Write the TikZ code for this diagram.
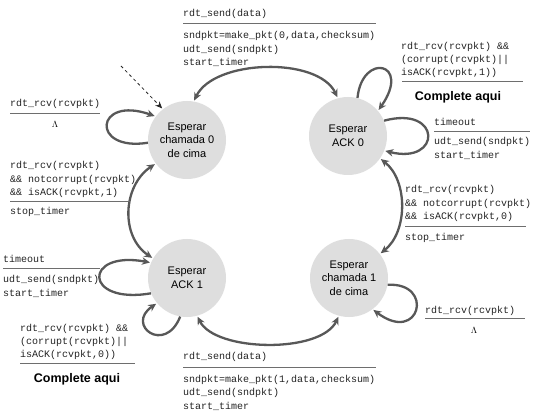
\documentclass[tikz,border=0pt]{standalone}
\usepackage{fontspec}
\setmainfont{Liberation Sans}
\setmonofont{Liberation Mono}
\usetikzlibrary{arrows.meta}
\definecolor{arrowgray}{RGB}{88,88,88}
\definecolor{rulegray}{RGB}{110,110,110}
\definecolor{statefill}{RGB}{222,222,222}
\definecolor{txtgray}{RGB}{35,35,35}
\begin{document}
\begin{tikzpicture}[x=1pt,y=-1pt,
  state/.style={circle, fill=statefill, minimum size=78pt, inner sep=0pt, align=center,
    font=\fontsize{11}{13.5}\selectfont},
  arc/.style={draw=arrowgray, line width=2.3pt, -{Stealth[length=8pt,width=7.5pt]}, shorten >=1pt},
  darc/.style={draw=arrowgray, line width=2.3pt, {Stealth[length=8pt,width=7.5pt]}-{Stealth[length=8pt,width=7.5pt]}, shorten >=1pt, shorten <=1pt},
  dasharr/.style={draw=black!85, line width=0.8pt, dashed, -{Stealth[length=7pt,width=6pt]}, shorten >=1pt},
  lbl/.style={anchor=base west, inner sep=0pt, text=txtgray, font=\fontsize{10}{12}\ttfamily\selectfont},
  lam/.style={anchor=base, inner sep=0pt, font=\fontsize{9}{11}\selectfont},
  todo/.style={anchor=base, inner sep=0pt, font=\fontsize{12.5}{14}\bfseries},
  rul/.style={draw=rulegray, line width=1pt}]
\useasboundingbox (0,0) rectangle (533,414);

% states
\node[state] (A) at (187,140) {Esperar\\chamada 0\\de cima};
\node[state] (B) at (348,136) {Esperar\\ACK 0};
\node[state] (C) at (187,278) {Esperar\\ACK 1};
\node[state] (D) at (349,278) {Esperar\\chamada 1\\de cima};

% initial dashed arrow
\coordinate (d0) at (121,66);
\draw[dasharr] (d0) -- (A.128);

% main transitions
\draw[darc] (A.80) .. controls +(20,-42) and +(-20,-42) .. (B.105);
\draw[darc] (B.-35) .. controls +(28,22) and +(28,-22) .. (D.38);
\draw[darc] (A.217) .. controls +(-33,22) and +(-33,-22) .. (C.150);
\draw[darc] (C.-75) .. controls +(18,36) and +(-18,38) .. (D.-105);

% self loops
\draw[arc] (A.184) .. controls (90,152) and (95,95) .. (A.143);
\draw[arc] (B.76) .. controls (362,52) and (412,62) .. (B.40);
\draw[arc] (B.23) .. controls (442,105) and (442,165) .. (B.-22);
\draw[arc] (D.-10) .. controls (435,282) and (420,345) .. (D.-53);
\draw[arc] (C.203) .. controls (83,305) and (83,250) .. (C.157);
\draw[arc] (C.-100) .. controls (165,355) and (125,325) .. (C.-140);

% top label
\node[lbl] (t1) at (183,17) {rdt\_send(data)};
\draw[rul] (183,24) -- (376,24);
\node[lbl] (t2) at (183,39) {sndpkt=make\_pkt(0,data,checksum)};
\node[lbl] (t3) at (183,52.5) {udt\_send(sndpkt)};
\node[lbl] (t4) at (183,66) {start\_timer};

% top right label
\node[lbl] (r1) at (401,50) {rdt\_rcv(rcvpkt) \&\&};
\node[lbl] (r2) at (401,63) {(corrupt(rcvpkt)||};
\node[lbl] (r3) at (401,76) {isACK(rcvpkt,1))};
\draw[rul] (402,82) -- (523,82);
\node[todo] (r4) at (458,101) {Complete aqui};

% right timeout label
\node[lbl] (s1) at (434,126) {timeout};
\draw[rul] (434,132) -- (530,132);
\node[lbl] (s2) at (434,145) {udt\_send(sndpkt)};
\node[lbl] (s3) at (434,158.5) {start\_timer};

% right middle label
\node[lbl] (m1) at (405,193) {rdt\_rcv(rcvpkt)};
\node[lbl] (m2) at (405,206.5) {\&\& notcorrupt(rcvpkt)};
\node[lbl] (m3) at (405,220) {\&\& isACK(rcvpkt,0)};
\draw[rul] (405,227) -- (526,227);
\node[lbl] (m4) at (405,241) {stop\_timer};

% right bottom label
\node[lbl] (n1) at (425,313) {rdt\_rcv(rcvpkt)};
\draw[rul] (425,318.5) -- (525,318.5);
\node[lam] (n2) at (474,333) {$\Lambda$};

% bottom label
\node[lbl] (b1) at (183,359) {rdt\_send(data)};
\draw[rul] (183,367) -- (376,367);
\node[lbl] (b2) at (183,382) {sndpkt=make\_pkt(1,data,checksum)};
\node[lbl] (b3) at (183,395.5) {udt\_send(sndpkt)};
\node[lbl] (b4) at (183,409) {start\_timer};

% left top label
\node[lbl] (p1) at (10,107) {rdt\_rcv(rcvpkt)};
\draw[rul] (10,114) -- (100,114);
\node[lam] (p2) at (55,128) {$\Lambda$};

% left middle label
\node[lbl] (q1) at (10,169) {rdt\_rcv(rcvpkt)};
\node[lbl] (q2) at (10,182.5) {\&\& notcorrupt(rcvpkt)};
\node[lbl] (q3) at (10,196) {\&\& isACK(rcvpkt,1)};
\draw[rul] (10,202) -- (130,202);
\node[lbl] (q4) at (10,215) {stop\_timer};

% left timeout label
\node[lbl] (u1) at (3,263) {timeout};
\draw[rul] (3,268.5) -- (100,268.5);
\node[lbl] (u2) at (3,283) {udt\_send(sndpkt)};
\node[lbl] (u3) at (3,296) {start\_timer};

% bottom left label
\node[lbl] (v1) at (20,331) {rdt\_rcv(rcvpkt) \&\&};
\node[lbl] (v2) at (20,344) {(corrupt(rcvpkt)||};
\node[lbl] (v3) at (20,357) {isACK(rcvpkt,0))};
\draw[rul] (20,363) -- (135,363);
\node[todo] (v4) at (77,382) {Complete aqui};
\end{tikzpicture}
\end{document}
